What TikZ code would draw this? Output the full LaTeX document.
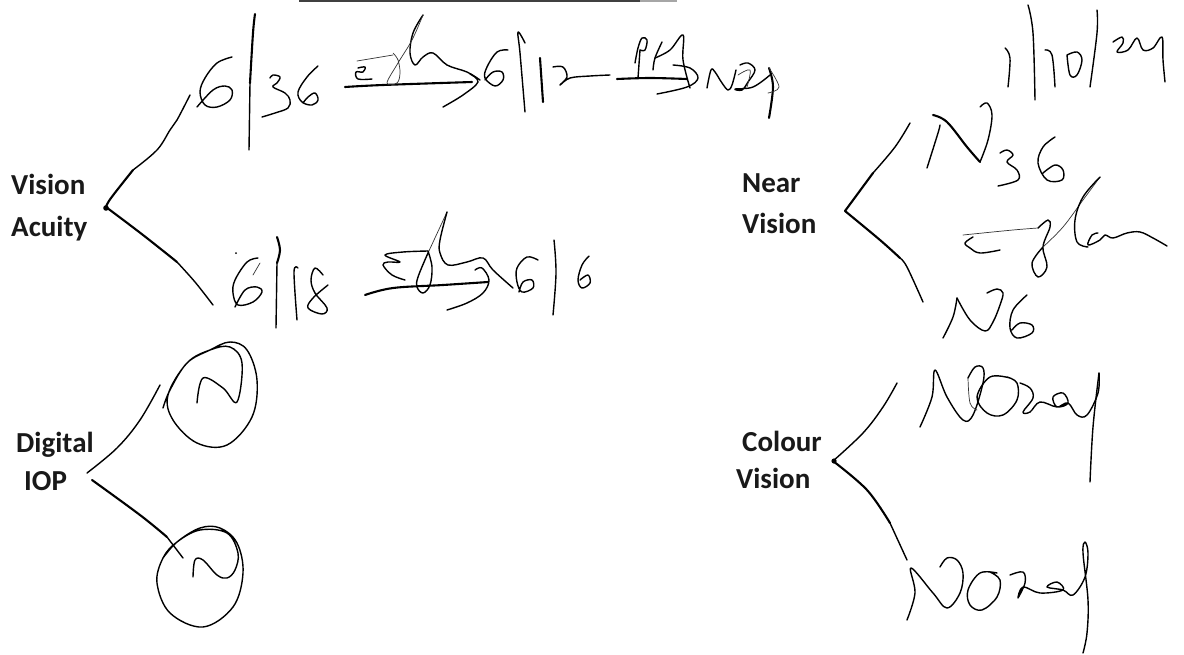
\documentclass[tikz,border=0pt]{standalone}
\usepackage{fontspec}
\setmainfont{Carlito}
\tikzset{
 hw/.style={draw=black,line width=1.4pt,line cap=round,line join=round},
 hwt/.style={draw=black!80,line width=.7pt,line cap=round,line join=round},
 hwb/.style={draw=black,line width=2.1pt,line cap=round,line join=round},
 lab/.style={font=\fontsize{29}{29}\selectfont\bfseries,align=left,anchor=north west,inner sep=0pt,text=black!90}
}
\newcommand{\stroke}[2]{\draw[#1] plot[smooth,tension=.6] coordinates {#2};}
\begin{document}
\begin{tikzpicture}[x=1pt,y=-1pt]
\useasboundingbox[fill=white] (0,0) rectangle (1184,654);
% top rule
\draw[black!75,line width=2pt] (299,0.8) -- (640,0.8);
\draw[black!35,line width=2pt] (640,0.8) -- (677,0.8);
% labels
\node[lab] (va) at (11,174) {Vision\\[13pt]Acuity};
\node[lab] (nv) at (742,173) {Near\\[12pt]Vision};
\node[lab] (di) at (16,432) {Digital\\[9pt]\hspace*{8pt}IOP};
\node[lab] (cv) at (736,431) {\hspace*{6pt}Colour\\[8pt]Vision};
% Vision Acuity bracket
\stroke{hwb}{(106,207)(111,198)(133,170)}
\stroke{hw}{(133,170)(157,150)(170,130)(177,120)(190,95)}
\stroke{hwb}{(106,207)(143,235)(177,262)}
\stroke{hw}{(177,262)(195,282)(213,305)}
\fill (106,208) circle (2.8pt);
% 6/36
\stroke{hw}{(232,57)(217,63)(205,78)(200,92)(205,105)(217,107)(230,100)(232,90)(225,86)(213,90)(197,107)}
\stroke{hwb}{(255,14)(253,33)(250,83)}
\stroke{hw}{(250,83)(249,150)}
\stroke{hw}{(270,78)(273,75)(280,77)(277,83)(273,87)(285,93)(290,100)(288,108)(275,113)(262,117)}
\stroke{hw}{(318,66)(307,77)(298,92)(302,102)(312,105)(318,100)(315,93)(308,97)(303,103)}
% arrow eH
\stroke{hwb}{(345,87)(383,85)(472,82)}
\stroke{hwt}{(357,61)(393,55)}
\stroke{hw}{(358,68)(365,67)(363,72)(356,72)(358,79)(372,79)}
\stroke{hw}{(423,15)(413,33)(410,53)(415,65)(423,57)(433,53)(447,65)(467,72)(480,80)}
\stroke{hwt}{(423,15)(412,40)(398,63)(387,83)(397,83)(400,73)(398,60)(393,53)}
\stroke{hw}{(470,74)(478,82)(463,95)(443,107)}
% 6/12
\stroke{hw}{(508,50)(497,52)(487,67)(485,78)(495,86)(503,80)(502,72)(493,72)(485,80)}
\stroke{hw}{(525,43)(518,32)(520,53)(525,112)}
\stroke{hwb}{(540,58)(543,102)}
\stroke{hw}{(553,67)(563,67)(567,77)(560,85)(570,78)(590,76)(610,75)}
% PH arrow
\stroke{hwb}{(617,79)(650,78)(687,79)}
\stroke{hw}{(635,63)(638,48)(642,38)(647,40)(645,50)(640,50)}
\stroke{hw}{(640,50)(638,78)}
\stroke{hw}{(662,42)(655,58)(653,70)}
\stroke{hw}{(655,58)(670,50)(683,35)(683,60)(690,88)}
\stroke{hw}{(673,65)(690,68)(698,78)(687,87)(657,94)}
% Nsp
\stroke{hw}{(707,88)(711,70)(715,72)(722,83)(728,90)(732,85)(736,70)}
\stroke{hw}{(740,65)(748,63)(755,70)(748,82)(742,90)(735,89)(753,87)(770,75)}
\stroke{hwt}{(738,75)(750,70)(747,87)}
\stroke{hwb}{(769,68)(773,87)(769,118)}
\stroke{hwt}{(769,68)(779,87)(768,93)}
% 6/18
\fill (236,253) circle (1pt);
\stroke{hw}{(258,258)(247,262)(235,280)(233,293)(238,305)(253,302)(262,292)(257,287)(245,290)(235,307)}
\stroke{hwt}{(260,263)(253,275)}
\stroke{hwb}{(277,237)(280,250)(277,263)}
\stroke{hw}{(277,263)(276,328)}
\stroke{hw}{(298,268)(294,272)(297,320)}
\stroke{hw}{(323,275)(315,268)(311,280)(315,293)(327,308)(322,314)(308,308)(313,298)(328,285)}
% arrow eH lower
\stroke{hwb}{(365,295)(393,288)(443,285)(488,282)}
\stroke{hw}{(428,251)(403,252)(385,255)(400,262)(388,262)(383,265)(392,275)(405,280)}
\stroke{hwt}{(447,212)(428,253)}
\stroke{hw}{(428,253)(418,277)(417,287)(423,293)(430,285)(432,267)(428,251)}
\stroke{hw}{(447,212)(440,240)(440,253)(448,265)(467,262)(483,258)(493,270)(513,288)}
\stroke{hw}{(475,270)(482,268)(489,280)(483,293)(467,303)(447,310)}
% 6/6
\stroke{hw}{(538,260)(527,257)(517,268)(517,282)(522,292)(533,288)(532,280)(523,282)(519,292)}
\stroke{hw}{(554,240)(556,273)(553,315)}
\stroke{hw}{(589,256)(582,265)(578,280)(582,288)(590,283)(588,275)(580,280)}
% date
\stroke{hw}{(1005,48)(1010,58)(1008,87)}
\stroke{hw}{(1028,5)(1033,33)(1035,100)}
\stroke{hw}{(1045,50)(1052,55)(1055,87)}
\stroke{hw}{(1067,55)(1070,75)(1077,75)(1082,60)(1077,52)(1067,55)}
\stroke{hw}{(1097,10)(1097,33)(1090,87)}
\stroke{hw}{(1113,42)(1122,37)(1123,43)(1117,52)(1128,50)(1137,38)(1143,50)(1153,48)(1162,37)(1163,60)(1165,82)}
% Near bracket
\stroke{hwb}{(845,211)(873,173)}
\stroke{hw}{(873,173)(895,147)(910,123)}
\stroke{hwb}{(845,211)(880,240)(900,258)}
\stroke{hw}{(900,258)(907,267)(923,302)}
% N36
\stroke{hw}{(927,168)(938,133)(940,125)}
\stroke{hwb}{(933,115)(947,122)(967,147)(980,162)}
\stroke{hw}{(980,162)(988,140)(992,115)(987,103)(980,107)}
\stroke{hw}{(1000,153)(1007,150)(1013,155)(1007,162)(1017,170)(1018,180)(998,186)}
\stroke{hw}{(1055,137)(1043,147)(1038,163)(1047,180)(1062,180)(1063,170)(1055,165)(1043,173)}
% glan
\stroke{hwt}{(963,235)(1013,230)(1038,228)}
\stroke{hw}{(973,237)(965,243)(970,248)(980,253)(1000,250)}
\stroke{hw}{(1038,228)(1048,220)(1050,227)(1043,247)(1047,267)(1038,277)(1032,263)(1043,247)}
\stroke{hwt}{(1043,247)(1063,227)(1083,200)(1100,177)}
\stroke{hw}{(1100,177)(1083,197)(1075,220)(1077,242)(1088,247)}
\stroke{hw}{(1098,233)(1092,235)(1088,245)(1100,240)(1105,235)(1113,238)(1127,233)(1140,232)(1153,238)(1167,246)}
% N6
\stroke{hw}{(943,338)(953,317)(957,298)}
\stroke{hw}{(957,298)(970,320)(985,331)(993,322)(1000,305)(1003,293)(997,289)(987,293)}
\stroke{hw}{(1027,295)(1013,310)(1010,328)(1017,338)(1032,333)(1032,325)(1020,323)(1012,330)}
% Colour bracket
\stroke{hw}{(833,461)(863,433)(883,407)(897,383)}
\stroke{hwb}{(833,461)(867,490)(890,523)}
\stroke{hw}{(890,523)(907,560)}
\fill (834,461) circle (2.6pt);
% Normal 1
\stroke{hw}{(920,427)(932,397)(935,370)(947,397)(963,420)(973,415)(983,383)(983,368)(975,367)(968,378)}
\stroke{hwt}{(968,378)(970,403)(977,410)}
\stroke{hw}{(1010,378)(990,377)(977,397)(987,413)(1003,415)(1017,400)(1017,383)(1007,377)}
\stroke{hw}{(1020,383)(1030,388)(1033,398)(1023,412)(1030,412)(1040,402)(1057,407)(1068,403)(1063,393)(1053,397)(1057,407)(1068,403)(1077,415)(1087,415)(1098,393)(1099,373)}
\stroke{hw}{(1099,373)(1093,427)(1090,482)}
% Normal 2
\stroke{hw}{(907,620)(915,593)(911,568)(933,593)(947,608)(960,593)(963,573)(957,560)(947,558)(940,567)}
\stroke{hw}{(997,573)(980,573)(968,590)(970,605)(982,610)(997,597)(1000,580)(990,572)}
\stroke{hw}{(1010,575)(1023,572)(1025,583)(1018,598)(1023,587)(1040,593)(1063,590)(1057,582)(1047,587)(1063,590)(1073,595)(1085,577)(1088,553)(1085,542)(1083,553)(1088,600)(1087,633)(1083,653)}
% Digital IOP
\stroke{hw}{(87,473)(117,448)(140,420)(160,385)}
\stroke{hwb}{(92,480)(140,515)(167,537)}
\stroke{hw}{(167,537)(183,558)}
\stroke{hw}{(163,408)(170,390)(187,363)(210,350)(230,342)(247,350)(257,380)(252,417)(227,445)(197,443)(173,420)(168,395)(187,363)(210,350)(230,347)(242,363)(237,402)(223,388)(203,378)(197,403)}
\stroke{hw}{(163,558)(177,542)(200,528)(220,528)(237,543)(243,573)(233,607)(203,627)(170,613)(157,583)(163,558)(177,542)(200,530)(227,533)(238,553)(235,570)(227,578)(217,575)(203,560)(195,560)(193,577)}
\end{tikzpicture}
\end{document}
